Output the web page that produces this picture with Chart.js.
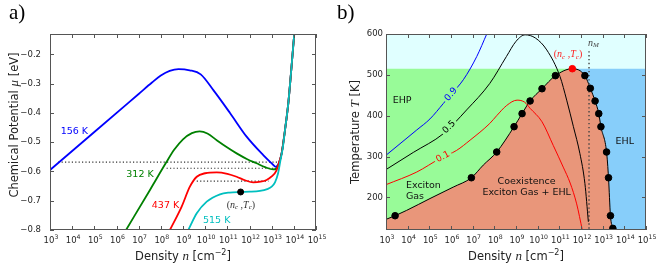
<!DOCTYPE html>
<html>
<head>
<meta charset="utf-8">
<script src="https://cdn.jsdelivr.net/npm/chart.js@4.4.1/dist/chart.umd.min.js"></script>
<style>
  html, body { margin: 0; padding: 0; background: #fff; }
  #wrap { position: relative; width: 663px; height: 269px; }
  canvas { position: absolute; top: 0; }
  #chartA { left: 0; }
  #chartB { left: 330px; }
</style>
</head>
<body>
<div id="wrap">
  <canvas id="chartA" width="330" height="269"></canvas>
  <canvas id="chartB" width="333" height="269"></canvas>
</div>
<script>
// ---- data (densities given as log10 n) ----
const decades = [3, 4, 5, 6, 7, 8, 9, 10, 11, 12, 13, 14, 15];
const muTicks = [-0.8, -0.7, -0.6, -0.5, -0.4, -0.3, -0.2];
const tempTicks = [200, 300, 400, 500, 600];

// panel a: chemical potential isotherms
const n156 = [3, 5, 7, 7.6, 8.0, 8.4, 8.8, 9.3, 9.8, 10.37, 11.12, 11.87, 12.62, 13.0, 13.18, 13.3, 13.45, 13.6, 13.75, 13.87, 13.97, 14.02];
const mu156 = [-0.595, -0.465, -0.335, -0.296, -0.272, -0.256, -0.250, -0.254, -0.268, -0.322, -0.400, -0.481, -0.544, -0.572, -0.584, -0.576, -0.538, -0.459, -0.367, -0.265, -0.174, -0.13];
const n312 = [6.43, 7.51, 8.26, 8.6, 9.0, 9.4, 9.75, 10.1, 10.52, 11.0, 11.42, 11.9, 12.32, 12.7, 13.07, 13.2, 13.32, 13.45, 13.6, 13.75, 13.87, 13.97, 14.02];
const mu312 = [-0.8, -0.663, -0.567, -0.526, -0.490, -0.469, -0.463, -0.470, -0.493, -0.518, -0.538, -0.558, -0.572, -0.585, -0.593, -0.591, -0.575, -0.538, -0.459, -0.367, -0.265, -0.174, -0.13];
const n437 = [8.41, 8.94, 9.31, 9.62, 10.0, 10.52, 11.0, 11.42, 11.8, 12.17, 12.5, 12.77, 13.0, 13.22, 13.35, 13.45, 13.6, 13.75, 13.87, 13.97, 14.02];
const mu437 = [-0.8, -0.72, -0.652, -0.618, -0.606, -0.603, -0.608, -0.618, -0.630, -0.637, -0.635, -0.629, -0.617, -0.596, -0.565, -0.538, -0.459, -0.367, -0.265, -0.174, -0.13];
const n515 = [9.24, 9.62, 10.07, 10.67, 11.1, 11.6, 12.0, 12.47, 12.8, 13.0, 13.15, 13.29, 13.4, 13.5, 13.6, 13.75, 13.87, 13.97, 14.02];
const mu515 = [-0.8, -0.743, -0.703, -0.678, -0.672, -0.670, -0.669, -0.666, -0.660, -0.652, -0.637, -0.606, -0.56, -0.52, -0.459, -0.367, -0.265, -0.174, -0.13];
const critN = 11.6, critMu = -0.670;
// Maxwell construction tie lines
const tieMu = [-0.568, -0.589, -0.633];
const tieFrom = [3.37, 8.26, 9.62];
const tieTo = [13.37, 13.29, 12.86];

// panel b: phase diagram
const Tc = 515, ncB = 11.6, ehlEdge = 11.72, tTop = 600;
const domeN = [3, 3.42, 3.95, 5.03, 6.1, 6.94, 7.49, 8.11, 8.91, 9.28, 9.65, 10.2, 10.82, 11.6, 12.18, 12.43, 12.65, 12.82, 12.92, 13.18, 13.27, 13.36, 13.47, 13.5];
const domeT = [146, 155, 168, 197, 225, 248, 279, 311, 373, 405, 436, 466, 498, 515, 498, 467, 436, 405, 373, 311, 248, 155, 124, 120];
const dotN = [3.42, 6.94, 8.11, 8.91, 9.28, 9.65, 10.2, 10.82, 12.18, 12.43, 12.65, 12.82, 12.92, 13.18, 13.27, 13.36, 13.47];
const dotT = [155, 248, 311, 373, 405, 436, 466, 498, 498, 467, 436, 405, 373, 311, 248, 155, 124];
const c09N = [3, 4.42, 5.03, 5.65, 6.0, 6.57, 7.19, 7.65];
const c09T = [303, 365, 392, 430, 452, 488, 545, 600];
const c05N = [3, 4.26, 5.65, 6.72, 7.79, 8.56, 9.0, 9.42, 9.9, 10.42, 11.03, 11.34, 11.65, 11.95, 12.18, 12.34];
const c05T = [268, 310, 356, 414, 479, 545, 582, 598, 590, 561, 496, 438, 373, 307, 234, 140];
const c01N = [3, 4.42, 5.49, 6.26, 6.88, 7.79, 8.11, 8.57, 9.05, 9.4, 9.65, 10.2, 10.72, 11.18, 11.5, 11.8, 12.06];
const c01T = [231, 262, 295, 315, 340, 381, 400, 425, 438, 433, 418, 385, 327, 274, 235, 184, 120];
const nM = 12.37, nMTop = 558;

// ---- helpers ----
const SANS = '"DejaVu Sans", sans-serif';
const SERIF = '"Liberation Serif", serif';
const TICK_FONT = { family: 'DejaVu Sans', size: 8.5 };
const pts = (ns, ys) => ns.map((e, i) => ({ x: 10 ** e, y: ys[i] }));
const line = (ns, ys, color, w, extra) => Object.assign({
  data: pts(ns, ys), borderColor: color, borderWidth: w, pointRadius: 0, fill: false
}, extra || {});

function richText(ctx, parts, x, y, rot, align) {
  ctx.save();
  ctx.translate(x, y);
  ctx.rotate(rot || 0);
  ctx.textAlign = 'left';
  ctx.textBaseline = 'middle';
  let w = 0;
  parts.forEach(p => { ctx.font = p.f; w += ctx.measureText(p.t).width; });
  let cx = align === 'left' ? 0 : -w / 2;
  parts.forEach(p => {
    ctx.font = p.f;
    ctx.fillStyle = p.c || '#222';
    ctx.fillText(p.t, cx, p.dy || 0);
    cx += ctx.measureText(p.t).width;
  });
  ctx.restore();
}

function ncTc(color) {
  return [
    { t: '(', f: `10px ${SERIF}`, c: color },
    { t: 'n', f: `italic 10px ${SERIF}`, c: color },
    { t: 'c', f: `italic 7px ${SERIF}`, c: color, dy: 2.5 },
    { t: ' ,', f: `10px ${SERIF}`, c: color },
    { t: 'T', f: `italic 10px ${SERIF}`, c: color },
    { t: 'c', f: `italic 7px ${SERIF}`, c: color, dy: 2.5 },
    { t: ')', f: `10px ${SERIF}`, c: color }
  ];
}

// frame, inward ticks on all four sides, and 10^n tick labels
const frame = {
  id: 'frame',
  afterDraw(chart) {
    const { ctx, chartArea: a, scales: { x, y } } = chart;
    ctx.save();
    ctx.strokeStyle = '#555';
    ctx.lineWidth = 1;
    ctx.strokeRect(a.left + 0.5, a.top + 0.5, a.right - a.left - 1, a.bottom - a.top - 1);
    ctx.beginPath();
    x.ticks.forEach(t => {
      const p = Math.round(x.getPixelForValue(t.value)) + 0.5;
      ctx.moveTo(p, a.bottom); ctx.lineTo(p, a.bottom - 4);
      ctx.moveTo(p, a.top); ctx.lineTo(p, a.top + 4);
    });
    y.ticks.forEach(t => {
      const p = Math.round(y.getPixelForValue(t.value)) + 0.5;
      ctx.moveTo(a.left, p); ctx.lineTo(a.left + 4, p);
      ctx.moveTo(a.right, p); ctx.lineTo(a.right - 4, p);
    });
    ctx.stroke();
    ctx.restore();
    x.ticks.forEach(t => {
      const e = Math.round(Math.log10(t.value));
      richText(ctx, [
        { t: '10', f: `8.5px ${SANS}`, c: '#262626' },
        { t: String(e), f: `6.2px ${SANS}`, c: '#262626', dy: -4 }
      ], x.getPixelForValue(t.value) + 1, a.bottom + 11);
    });
  }
};

function axes(yMin, yMax, yTicks, yWidth, yPad, yFmt) {
  return {
    x: {
      type: 'logarithmic', min: 1e3, max: 1e15,
      afterBuildTicks: s => { s.ticks = decades.map(e => ({ value: 10 ** e })); },
      afterFit: s => { s.height = 39; },
      grid: { display: false, drawTicks: false },
      border: { display: false },
      ticks: { display: false, autoSkip: false, maxRotation: 0 }
    },
    y: {
      type: 'linear', min: yMin, max: yMax,
      afterBuildTicks: s => { s.ticks = yTicks.map(v => ({ value: v })); },
      afterFit: s => { s.width = yWidth; },
      grid: { display: false, drawTicks: false },
      border: { display: false },
      ticks: { autoSkip: false, padding: yPad, font: TICK_FONT, color: '#262626', callback: yFmt }
    }
  };
}

const common = {
  responsive: false,
  animation: false,
  plugins: { legend: { display: false }, tooltip: { enabled: false } },
  elements: { line: { cubicInterpolationMode: 'monotone' } }
};

// ---- panel a ----
const tieSets = tieMu.map((m, i) => line([tieFrom[i], tieTo[i]], [m, m], '#333', 1.2, { borderDash: [1.2, 2.2] }));

const labelsA = {
  id: 'labelsA',
  afterDraw(chart) {
    const { ctx, chartArea: a, scales: { x, y } } = chart;
    const P = (e, v) => [x.getPixelForValue(10 ** e), y.getPixelForValue(v)];
    const f = `9.5px ${SANS}`;
    [['156 K', 4.10, -0.462, '#0000ff'], ['312 K', 7.06, -0.609, '#008000'],
     ['437 K', 8.21, -0.715, '#ff0000'], ['515 K', 10.52, -0.766, '#00bfbf']].forEach(([t, e, v, c]) => {
      const [px, py] = P(e, v);
      richText(ctx, [{ t, f, c }], px, py);
    });
    const [qx, qy] = P(11.61, -0.715);
    richText(ctx, ncTc('#333'), qx, qy);
    richText(ctx, [
      { t: 'Density ', f: `11.5px ${SANS}` }, { t: 'n', f: `italic 13px ${SERIF}` },
      { t: ' [cm', f: `11.5px ${SANS}` }, { t: '−2', f: `8px ${SANS}`, dy: -4 }, { t: ']', f: `11.5px ${SANS}` }
    ], (a.left + a.right) / 2, 257);
    richText(ctx, [
      { t: 'Chemical Potential ', f: `11.5px ${SANS}` }, { t: 'μ', f: `italic 13px ${SERIF}` },
      { t: ' [eV]', f: `11.5px ${SANS}` }
    ], 15, 125, -Math.PI / 2);
    richText(ctx, [{ t: 'a)', f: `21px ${SERIF}`, c: '#000' }], 9, 13, 0, 'left');
  }
};

new Chart(document.getElementById('chartA'), {
  type: 'line',
  data: {
    datasets: [
      line([critN], [critMu], '#000', 1, { showLine: false, pointRadius: 3, pointBackgroundColor: '#000' }),
      line(n515, mu515, '#00bfbf', 1.8),
      line(n437, mu437, '#ff0000', 1.8),
      line(n312, mu312, '#008000', 1.8),
      line(n156, mu156, '#0000ff', 1.8),
      ...tieSets
    ]
  },
  options: Object.assign({}, common, {
    layout: { padding: { top: 34, right: 14, left: 0, bottom: 0 } },
    scales: axes(-0.8, -0.13, muTicks, 50, 9, v => '−' + Math.abs(v).toFixed(1))
  }),
  plugins: [frame, labelsA]
});

// ---- panel b ----
const labelsB = {
  id: 'labelsB',
  afterDraw(chart) {
    const { ctx, chartArea: a, scales: { x, y } } = chart;
    const P = (e, v) => [x.getPixelForValue(10 ** e), y.getPixelForValue(v)];
    const f = `9.5px ${SANS}`;
    // contour labels, with a gap in the line
    [['0.9', 6.0, 452, -50, '#0000ff'], ['0.5', 5.91, 372, -45, '#000'], ['0.1', 5.63, 299, -28, '#ff0000']]
      .forEach(([t, e, v, ang, c]) => {
        const [px, py] = P(e, v);
        ctx.save();
        ctx.translate(px, py);
        ctx.rotate(ang * Math.PI / 180);
        ctx.font = `9px ${SANS}`;
        const w = ctx.measureText(t).width;
        ctx.fillStyle = '#98fb98';
        ctx.fillRect(-w / 2 - 2, -4, w + 4, 8);
        ctx.fillStyle = c;
        ctx.textAlign = 'center';
        ctx.textBaseline = 'middle';
        ctx.fillText(t, 0, 0);
        ctx.restore();
      });
    const txt = (t, e, v, align, c) => { const [px, py] = P(e, v); richText(ctx, [{ t, f, c: c || '#111' }], px, py, 0, align); };
    txt('EHP', 3.31, 438, 'left');
    txt('Exciton', 3.92, 228, 'left');
    txt('Gas', 3.92, 201, 'left');
    txt('Coexistence', 9.49, 238);
    txt('Exciton Gas + EHL', 9.49, 211);
    txt('EHL', 14.02, 336);
    const [qx, qy] = P(11.4, 549);
    richText(ctx, ncTc('#ff2020'), qx, qy);
    const [mx, my] = P(12.57, 578);
    richText(ctx, [{ t: 'n', f: `italic 10px ${SERIF}`, c: '#444' }, { t: 'M', f: `italic 7px ${SERIF}`, c: '#444', dy: 2.5 }], mx, my);
    richText(ctx, [
      { t: 'Density ', f: `11.5px ${SANS}` }, { t: 'n', f: `italic 13px ${SERIF}` },
      { t: ' [cm', f: `11.5px ${SANS}` }, { t: '−2', f: `8px ${SANS}`, dy: -4 }, { t: ']', f: `11.5px ${SANS}` }
    ], (a.left + a.right) / 2, 257);
    richText(ctx, [
      { t: 'Temperature ', f: `11.5px ${SANS}` }, { t: 'T', f: `italic 13px ${SERIF}` },
      { t: ' [K]', f: `11.5px ${SANS}` }
    ], 26, (a.top + a.bottom) / 2, -Math.PI / 2);
    richText(ctx, [{ t: 'b)', f: `21px ${SERIF}`, c: '#000' }], 7, 13, 0, 'left');
  }
};

new Chart(document.getElementById('chartB'), {
  type: 'line',
  data: {
    datasets: [
      line([ncB], [Tc], '#ff0000', 1, { showLine: false, pointRadius: 3.3, pointBackgroundColor: '#ff0000' }),
      line(dotN, dotT, '#000', 1, { showLine: false, pointRadius: 3.3, pointBackgroundColor: '#000' }),
      line(c05N, c05T, '#000', 1),
      line(c01N, c01T, '#ff0000', 1),
      line(c09N, c09T, '#0000ff', 1),
      line([nM, nM], [nMTop, 120], '#444', 1.4, { borderDash: [1.4, 2.6] }),
      line(domeN, domeT, '#000', 1, { fill: 'start', backgroundColor: '#e9967a' }),
      line([ehlEdge, 15], [Tc, Tc], 'rgba(0,0,0,0)', 0, { fill: 'start', backgroundColor: '#87cefa' }),
      line([3, ehlEdge], [Tc, Tc], 'rgba(0,0,0,0)', 0, { fill: 'start', backgroundColor: '#98fb98' }),
      line([3, 15], [tTop, tTop], 'rgba(0,0,0,0)', 0, { fill: 'start', backgroundColor: '#e0ffff' })
    ]
  },
  options: Object.assign({}, common, {
    layout: { padding: { top: 34, right: 17, left: 0, bottom: 0 } },
    scales: axes(120, 600, tempTicks, 56, 3, v => String(v))
  }),
  plugins: [frame, labelsB]
});
</script>
</body>
</html>
